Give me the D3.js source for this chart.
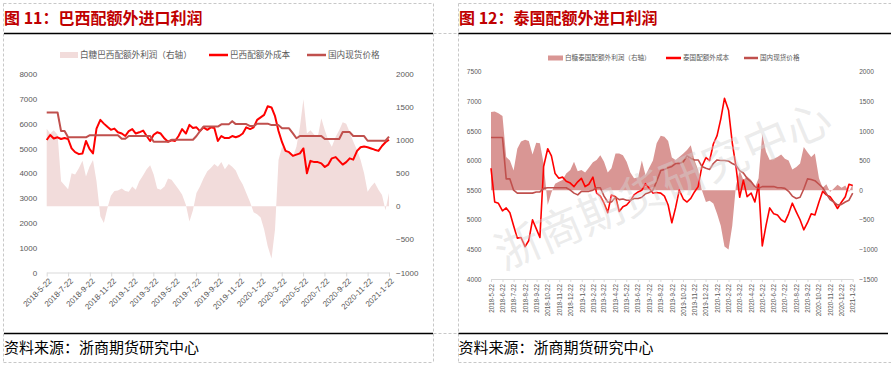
<!DOCTYPE html>
<html>
<head>
<meta charset="utf-8">
<script src="https://cdn.jsdelivr.net/npm/d3@7"></script>
<style>
body { margin: 0; background: #fff; }
svg text { font-family: "Liberation Sans", Arial, sans-serif; }
svg .cn { font-family: "Noto Sans CJK SC", sans-serif; }
</style>
</head>
<body>
<svg id="chart" width="892" height="367"></svg>
<script>
// date range of both charts (points are spread evenly over it)
var startDate = "2018-5-22", endDate = "2021-1-22";

// 图11 巴西 : profit (right axis), cost, domestic spot price
var brazilProfit = [1174,1100,1150,1080,380,320,260,500,480,580,
  690,450,600,700,380,-150,-250,-30,160,230,
  240,270,230,220,300,250,380,470,560,620,
  480,270,250,300,420,400,330,260,180,20,
  -230,-60,200,300,420,530,580,640,600,670,
  560,640,600,540,420,330,200,60,-90,-120,
  -170,-350,-600,-790,-350,700,900,860,820,750,
  900,1200,1620,1100,1150,1080,1050,1330,1150,1000,
  900,1050,1150,1270,1250,1120,980,850,700,500,
  220,300,360,250,170,-60,200];
var brazilCost = [5340,5540,5400,5450,5380,5420,5380,5000,4850,4770,
  4800,5300,4980,4800,5800,6150,6000,5870,5750,5800,
  5650,5600,5500,5700,5780,5600,5650,5720,5500,5300,
  5550,5650,5600,5400,5270,5330,5300,5500,5780,5600,
  5950,5820,5850,5700,5850,5750,5850,5820,5300,5500,
  5420,5420,5500,5450,5500,5600,5850,5780,5850,6150,
  6250,6350,6700,6650,6300,5700,5250,4900,4850,4700,
  4750,4800,5000,4000,4500,4450,4450,4400,4250,4350,
  4600,4650,4500,4350,4450,4600,4550,4900,5050,5080,
  5050,5000,4950,4900,5100,5250,5350];
var brazilSpot = [6450,6450,6450,6450,5700,5700,5450,5450,5450,5450,
  5450,5450,5530,5530,5530,5530,5530,5530,5530,5530,
  5530,5390,5390,5500,5500,5500,5500,5500,5500,5500,
  5270,5270,5270,5270,5270,5350,5350,5350,5350,5350,
  5350,5350,5500,5700,5880,5880,5880,5880,5880,5970,
  5970,5970,6100,5980,5980,5980,5980,5900,5900,6000,
  6000,6000,6000,5940,5940,5940,5810,5810,5810,5610,
  5410,5500,5500,5500,5500,5500,5500,5500,5380,5380,
  5380,5380,5380,5660,5660,5660,5500,5500,5500,5500,
  5310,5310,5310,5310,5310,5310,5480];

// 图12 泰国
var thaiProfit = [1320,1330,1300,1250,560,500,330,700,820,850,
  830,600,800,790,450,-250,-40,110,140,170,
  280,340,480,320,340,300,380,470,510,590,
  480,300,370,620,620,590,480,300,200,220,
  500,250,380,500,790,920,900,830,550,510,
  560,620,680,760,510,340,0,-200,-180,-225,
  -400,-600,-950,-1000,-600,80,330,170,230,170,
  40,200,950,650,510,530,560,600,530,500,
  350,390,450,730,640,560,620,200,40,100,
  -30,30,90,40,80,-30,100];
var thaiCost = [5870,5300,5278,5150,5200,5120,4900,4690,4700,4546,
  4650,5000,4850,4700,5900,6200,6080,5780,5700,5720,
  5650,5620,5560,5640,5700,5560,5600,5720,5450,5400,
  5280,5120,5418,5390,5140,5220,5250,5320,5420,5470,
  5500,5610,5530,5450,5460,5450,5400,5250,4950,5200,
  5500,5350,5300,5360,5470,5560,5900,6050,6000,6280,
  6420,6700,7050,6850,6300,5900,5380,5670,5390,5450,
  5300,5600,4560,4900,5200,5100,5080,5000,4960,5100,
  5280,5130,5000,4830,4950,5100,5080,5300,5480,5420,
  5390,5300,5190,5300,5390,5600,5580];
var thaiSpot = [6390,6390,6390,6390,5690,5690,5500,5450,5450,5450,
  5450,5450,5470,5470,5530,5540,5540,5540,5540,5540,
  5540,5500,5450,5420,5480,5480,5480,5500,5540,5540,
  5400,5300,5300,5380,5340,5350,5330,5330,5360,5360,
  5380,5440,5460,5500,5650,5830,5850,5880,5900,5950,
  5950,5980,6080,6040,6010,6010,5900,5870,5850,5950,
  6010,6000,6000,5990,5950,5920,5830,5790,5700,5640,
  5560,5530,5560,5560,5560,5560,5540,5540,5530,5480,
  5400,5360,5380,5520,5690,5680,5660,5600,5540,5440,
  5340,5300,5250,5260,5300,5330,5450];

// tick labels
var brazilDateTicks = ["2018-5-22","2018-7-22","2018-9-22","2018-11-22","2019-1-22","2019-3-22",
  "2019-5-22","2019-7-22","2019-9-22","2019-11-22","2020-1-22","2020-3-22","2020-5-22",
  "2020-7-22","2020-9-22","2020-11-22","2021-1-22"];
var thaiDateTicks = ["2018-5-22","2018-6-22","2018-7-22","2018-8-22","2018-9-22","2018-10-22",
  "2018-11-22","2018-12-22","2019-1-22","2019-2-22","2019-3-22","2019-4-22","2019-5-22",
  "2019-6-22","2019-7-22","2019-8-22","2019-9-22","2019-10-22","2019-11-22","2019-12-22",
  "2020-1-22","2020-2-22","2020-3-22","2020-4-22","2020-5-22","2020-6-22","2020-7-22",
  "2020-8-22","2020-9-22","2020-10-22","2020-11-22","2020-12-22","2021-1-22"];
var brazilLeftTicks = [0,1000,2000,3000,4000,5000,6000,7000,8000];
var brazilRightTicks = [-1000,-500,0,500,1000,1500,2000];
var thaiLeftTicks = [4000,4500,5000,5500,6000,6500,7000,7500];
var thaiRightTicks = [-1500,-1000,-500,0,500,1000,1500,2000];

var svg = d3.select("#chart");
var parse = d3.timeParse("%Y-%m-%d");
var fmt = d3.timeFormat("%Y-%-m-%-d");
var t0 = parse(startDate), t1 = parse(endDate);
var nDays = d3.timeDay.count(t0, t1);

var red = "#ff0000", brown = "#c0504d", grey = "#595959";

function drawPanel(o) {
    var x = d3.scaleTime().domain([t0, t1]).range([o.x0, o.x1]);
    var yL = d3.scaleLinear().domain(o.leftDomain).range([o.yB, o.yT]);
    var yR = d3.scaleLinear().domain(o.rightDomain).range([o.yB, o.yT]);
    var n = o.profit.length;
    var dates = d3.range(n).map(function (i) { return d3.timeDay.offset(t0, Math.round(i * nDays / (n - 1))); });
    var g = svg.append("g");

    // profit area on right axis
    g.append("path").datum(o.profit)
        .attr("fill", o.areaColor)
        .attr("d", d3.area().x(function (d, i) { return x(dates[i]); }).y0(yR(0)).y1(function (d) { return yR(d); }));

    // x axis
    var xa = g.append("g").attr("transform", "translate(0," + o.yB + ")")
        .call(d3.axisBottom(x).tickValues(o.dateTicks.map(parse)).tickFormat(fmt).tickSize(o.tickLen).tickSizeOuter(0));
    xa.select(".domain").attr("stroke", "#d9d9d9");
    xa.selectAll(".tick line").attr("stroke", "#d9d9d9");
    xa.selectAll(".tick text").attr("fill", grey).attr("font-size", o.xFont + "px")
        .attr("x", 0).attr("y", 0).attr("dy", "0.35em").attr("text-anchor", "end")
        .attr("transform", o.xRotate);

    // y axes, labels only
    var la = g.append("g").attr("transform", "translate(" + o.x0 + ",0)")
        .call(d3.axisLeft(yL).tickValues(o.leftTicks).tickFormat(d3.format("d")).tickSize(0).tickPadding(o.padL));
    var ra = g.append("g").attr("transform", "translate(" + o.x1 + ",0)")
        .call(d3.axisRight(yR).tickValues(o.rightTicks).tickFormat(d3.format("d")).tickSize(0).tickPadding(o.padR));
    [la, ra].forEach(function (a) {
        a.select(".domain").remove();
        a.selectAll("text").attr("fill", grey).attr("font-size", o.yFont + "px");
    });

    // lines
    var line = function (y) { return d3.line().x(function (d, i) { return x(dates[i]); }).y(function (d) { return y(d); }); };
    g.append("path").datum(o.cost).attr("fill", "none").attr("stroke", red)
        .attr("stroke-width", o.lw).attr("stroke-linejoin", "round").attr("d", line(yL));
    g.append("path").datum(o.spot).attr("fill", "none").attr("stroke", brown)
        .attr("stroke-width", o.lw).attr("stroke-linejoin", "round").attr("d", line(yL));

    // legend
    var lg = g.append("g").attr("transform", "translate(0," + o.legY + ")");
    var it = o.legend;
    lg.append("rect").attr("x", it[0][0]).attr("y", -o.swH / 2).attr("width", it[0][1]).attr("height", o.swH).attr("fill", o.areaColor);
    lg.append("line").attr("x1", it[1][0]).attr("x2", it[1][0] + it[1][1]).attr("stroke", red).attr("stroke-width", 2.5);
    lg.append("line").attr("x1", it[2][0]).attr("x2", it[2][0] + it[2][1]).attr("stroke", brown).attr("stroke-width", 2.5);
    it.forEach(function (d) {
        lg.append("text").attr("class", "cn").attr("x", d[0] + d[1] + 2).attr("dy", "0.35em")
            .attr("font-size", o.legFont + "px").attr("fill", grey).text(d[2]);
    });
    return g;
}

drawPanel({
    x0: 46.7, x1: 389, yT: 74, yB: 272.5,
    leftDomain: [0, 8000], rightDomain: [-1000, 2000],
    leftTicks: brazilLeftTicks, rightTicks: brazilRightTicks, dateTicks: brazilDateTicks,
    profit: brazilProfit, cost: brazilCost, spot: brazilSpot,
    areaColor: "#f2dcdb", lw: 2, tickLen: 4, xFont: 8, yFont: 8, padL: 9.5, padR: 7,
    xRotate: "translate(3,7) rotate(-45)",
    legY: 55, swH: 6, legFont: 8.6,
    legend: [[60, 18, "白糖巴西配额外利润（右轴）"], [209, 19, "巴西配额外成本"], [307, 19, "国内现货价格"]]
});

var right = drawPanel({
    x0: 491, x1: 852.7, yT: 71.7, yB: 279,
    leftDomain: [4000, 7500], rightDomain: [-1500, 2000],
    leftTicks: thaiLeftTicks, rightTicks: thaiRightTicks, dateTicks: thaiDateTicks,
    profit: thaiProfit, cost: thaiCost, spot: thaiSpot,
    areaColor: "#d99694", lw: 1.6, tickLen: 3, xFont: 6.3, yFont: 6.6, padL: 9.5, padR: 6.5,
    xRotate: "translate(0,5) rotate(-90)",
    legY: 58, swH: 5, legFont: 6.6,
    legend: [[548, 15, "白糖泰国配额外利润（右轴）"], [666, 15, "泰国配额外成本"], [744, 14, "国内现货价格"]]
});

// watermark over the right chart
right.append("text").attr("class", "cn")
    .attr("transform", "translate(663,186) rotate(-23)")
    .attr("text-anchor", "middle").attr("dy", "0.35em")
    .attr("font-size", "45px").attr("fill", "#d4d4d4").attr("fill-opacity", 0.45)
    .text("浙商期货研究中心");

// frames
var dash = function (x1, y1, x2, y2) {
    svg.append("line").attr("x1", x1).attr("y1", y1).attr("x2", x2).attr("y2", y2)
        .attr("stroke", "#c8c8c8").attr("stroke-dasharray", "3,2");
};
dash(3.5, 3.5, 433.5, 3.5); dash(3.5, 3.5, 3.5, 362.5); dash(433.5, 3.5, 433.5, 362.5); dash(3.5, 362.5, 433.5, 362.5);
dash(458.5, 3.5, 891, 3.5); dash(458.5, 3.5, 458.5, 362.5); dash(458.5, 362.5, 891, 362.5);
dash(433.5, 33.5, 458.5, 33.5); dash(433.5, 333.5, 458.5, 333.5);

var rule = function (x1, x2, y) {
    svg.append("line").attr("x1", x1).attr("x2", x2).attr("y1", y).attr("y2", y).attr("stroke", "#000").attr("stroke-width", 1.5);
};
rule(4, 433, 33.5); rule(458.5, 891, 33.5); rule(4, 433, 333.5); rule(458.5, 888, 333.5);

// titles and source notes
svg.append("text").attr("class", "cn").attr("x", 4).attr("y", 23.5).attr("font-size", "16px")
    .attr("font-weight", "bold").attr("fill", "#c00000").text("图 11：巴西配额外进口利润");
svg.append("text").attr("class", "cn").attr("x", 459).attr("y", 23.5).attr("font-size", "16px")
    .attr("font-weight", "bold").attr("fill", "#c00000").text("图 12：泰国配额外进口利润");
svg.append("text").attr("class", "cn").attr("x", 4).attr("y", 352.5).attr("font-size", "15px")
    .attr("fill", "#000").text("资料来源：浙商期货研究中心");
svg.append("text").attr("class", "cn").attr("x", 458.5).attr("y", 352.5).attr("font-size", "15px")
    .attr("fill", "#000").text("资料来源：浙商期货研究中心");
</script>
</body>
</html>
